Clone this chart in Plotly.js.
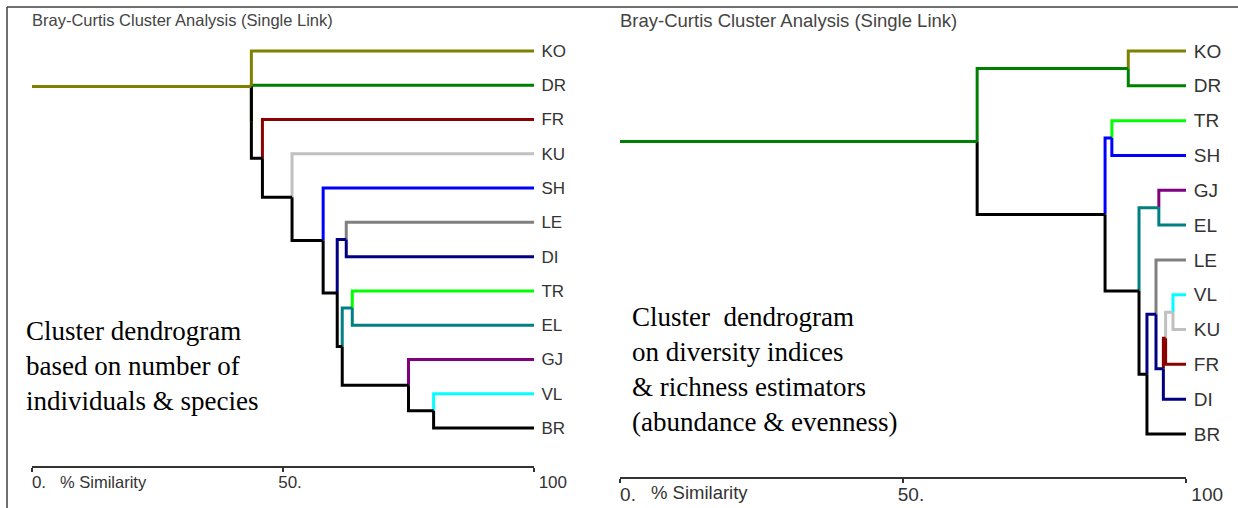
<!DOCTYPE html>
<html><head><meta charset="utf-8">
<script src="https://cdn.plot.ly/plotly-3.0.1.min.js"></script>
<style>html,body{margin:0;padding:0;background:#fff}#chart{width:1238px;height:508px}</style>
</head><body><div id="chart"></div>
<script>
// ---------------- data ----------------
const siteNames  = ['KO','DR','FR','KU','SH','LE','DI','TR','EL','GJ','VL','BR'];
const siteColors = ['#808000','#008000','#8b0000','#c0c0c0','#0000ff','#808080','#000080','#00ff00','#008080','#800080','#00ffff','#000000'];

// Left dendrogram: number of individuals & species
const leftLeaves   = ['KO','DR','FR','KU','SH','LE','DI','TR','EL','GJ','VL','BR'];
const leftMergeA   = ['VL','GJ','TR','LE','m2','m3','SH','KU','FR','DR','KO'];
const leftMergeB   = ['BR','m0','EL','DI','m1','m4','m5','m6','m7','m8','m9'];
const leftMergeSim = [80.0, 75.0, 63.8, 62.6, 61.8, 60.8, 58.0, 51.8, 45.9, 43.7, 43.7];

// Right dendrogram: diversity indices & richness estimators
const rightLeaves   = ['KO','DR','TR','SH','GJ','EL','LE','VL','KU','FR','DI','BR'];
const rightMergeA   = ['VL','m0','m1','GJ','LE','m4','m3','KO','TR','m8','m7'];
const rightMergeB   = ['KU','FR','DI','EL','m2','BR','m5','DR','SH','m6','m9'];
const rightMergeSim = [97.7, 96.4, 96.0, 95.2, 94.7, 93.1, 91.7, 89.8, 86.9, 85.7, 63.1];

const simTickVals = [0, 50, 100];
const simTickText = ['0.', '50.', '\u00a0\u00a0\u00a0\u00a0\u00a0100'];
const chartTitle  = 'Bray-Curtis Cluster Analysis (Single Link)';
const axisName    = '% Similarity';
const leftNote    = 'Cluster dendrogram<br>based on number of<br>individuals &amp; species';
const rightNote   = 'Cluster&nbsp; dendrogram<br>on diversity indices<br>&amp; richness estimators<br>(abundance &amp; evenness)';

// ---------------- build ----------------
const W = 1238, H = 508;
const SANS = '"Liberation Sans", Arial, sans-serif';
const SERIF = '"Liberation Serif", "Times New Roman", serif';
const LW = 3;

function buildTree(leaves, A, B, S, xa, ya) {
  const pos = {};
  leaves.forEach((n, i) => {
    pos[n] = { s: 100, y: i, color: siteColors[siteNames.indexOf(n)] };
  });
  const traces = [];
  A.forEach((a, k) => {
    const ca = pos[a], cb = pos[B[k]], s = S[k];
    const y = (ca.y + cb.y) / 2;
    [ca, cb].forEach(c => {
      traces.push({
        type: 'scatter', mode: 'lines', xaxis: xa, yaxis: ya,
        x: [c.s, s, s], y: [c.y, c.y, y],
        line: { color: c.color, width: LW }, hoverinfo: 'skip'
      });
    });
    pos['m' + k] = { s: s, y: y, color: cb.color, top: ca.color };
  });
  const root = pos['m' + (A.length - 1)];
  traces.push({
    type: 'scatter', mode: 'lines', xaxis: xa, yaxis: ya,
    x: [0, root.s], y: [root.y, root.y],
    line: { color: root.top, width: LW }, hoverinfo: 'skip'
  });
  return traces;
}

const data = [].concat(
  buildTree(leftLeaves, leftMergeA, leftMergeB, leftMergeSim, 'x', 'y'),
  buildTree(rightLeaves, rightMergeA, rightMergeB, rightMergeSim, 'x2', 'y2')
);

function xAxis(x0, x1, axisPx, fs, shift) {
  return {
    domain: [x0 / W, x1 / W], range: [0, 100], anchor: 'free', position: 1 - axisPx / H,
    showline: true, linecolor: '#333', linewidth: 1.5,
    ticks: 'outside', ticklen: 4, tickwidth: 1.5, tickcolor: '#333',
    tickvals: simTickVals, ticktext: simTickText, ticklabelshift: shift, ticklabelstandoff: -4,
    tickfont: { family: SANS, size: fs, color: '#333' },
    showgrid: false, zeroline: false, fixedrange: true
  };
}
function yAxis(leaves, topPx, botPx, xa, fs) {
  const step = (botPx - topPx) / (leaves.length - 1);
  const t = topPx - step / 2, b = botPx + step / 2;
  return {
    domain: [1 - b / H, 1 - t / H], range: [leaves.length - 0.5, -0.5],
    anchor: xa, side: 'right', tickvals: leaves.map((_, i) => i), ticktext: leaves,
    ticks: 'outside', ticklen: 3, tickcolor: 'rgba(0,0,0,0)',
    tickfont: { family: SANS, size: fs, color: '#333' },
    showline: false, showgrid: false, zeroline: false, fixedrange: true
  };
}

const layout = {
  width: W, height: H, margin: { l: 0, r: 0, t: 0, b: 0 },
  paper_bgcolor: '#fff', plot_bgcolor: 'rgba(0,0,0,0)', showlegend: false,
  xaxis: xAxis(32, 534, 466, 17, 7),
  yaxis: yAxis(leftLeaves, 51, 428, 'x', 17),
  xaxis2: xAxis(620, 1186, 477, 19, 8),
  yaxis2: yAxis(rightLeaves, 51, 434, 'x2', 19),
  annotations: [
    { text: chartTitle, xref: 'paper', yref: 'paper', x: 30 / W, y: 1 - 20 / H, xanchor: 'left', yanchor: 'middle', showarrow: false, font: { family: SANS, size: 16.5, color: '#444' } },
    { text: chartTitle, xref: 'paper', yref: 'paper', x: 618 / W, y: 1 - 20 / H, xanchor: 'left', yanchor: 'middle', showarrow: false, font: { family: SANS, size: 18.5, color: '#444' } },
    { text: axisName, xref: 'paper', yref: 'paper', x: 58 / W, y: 1 - 482 / H, xanchor: 'left', yanchor: 'middle', showarrow: false, font: { family: SANS, size: 16.5, color: '#333' } },
    { text: axisName, xref: 'paper', yref: 'paper', x: 649 / W, y: 1 - 492 / H, xanchor: 'left', yanchor: 'middle', showarrow: false, font: { family: SANS, size: 18.5, color: '#333' } },
    { text: leftNote, xref: 'paper', yref: 'paper', x: 24 / W, y: 1 - 365.5 / H, xanchor: 'left', yanchor: 'middle', align: 'left', showarrow: false, font: { family: SERIF, size: 27, color: '#000' } },
    { text: rightNote, xref: 'paper', yref: 'paper', x: 630 / W, y: 1 - 369 / H, xanchor: 'left', yanchor: 'middle', align: 'left', showarrow: false, font: { family: SERIF, size: 27, color: '#000' } }
  ],
  shapes: [
    { type: 'line', xref: 'paper', yref: 'paper', x0: 7 / W, x1: 1, y0: 1 - 7 / H, y1: 1 - 7 / H, line: { color: '#404040', width: 1.5 } },
    { type: 'line', xref: 'paper', yref: 'paper', x0: 7 / W, x1: 7 / W, y0: 0, y1: 1 - 7 / H, line: { color: '#404040', width: 1.5 } }
  ]
};

Plotly.newPlot('chart', data, layout, { displayModeBar: false, staticPlot: true });
</script>
</body></html>
